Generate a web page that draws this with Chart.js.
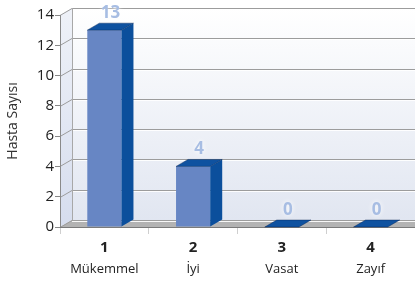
<!DOCTYPE html>
<html>
<head>
<meta charset="utf-8">
<script src="https://cdn.jsdelivr.net/npm/chart.js@4"></script>
<style>
  html, body { margin: 0; padding: 0; background: #fff; }
  #c { display: block; }
</style>
</head>
<body>
<canvas id="c" width="415" height="281"></canvas>
<script>
// veriler
const NUMS = ['1', '2', '3', '4'];
const NAMES = ['Mükemmel', 'İyi', 'Vasat', 'Zayıf'];
const HASTA = [13, 4, 0, 0];
const Y_MIN = 0, Y_MAX = 14, Y_STEP = 2;

// 3B derinlik ve renkler
const DX = 12, DY = -7;
const FRONT = '#6786c4', SIDE = '#0b4f9c', TOP = '#0f52a0';

Chart.defaults.font.family = '"Open Sans", sans-serif';

const box3d = {
  id: 'box3d',
  beforeDraw(chart) {
    const { ctx, chartArea: a, scales: { y } } = chart;
    const W = chart.width;
    const bx = a.left + DX, top = a.top + DY, bot = a.bottom + DY;
    ctx.save();
    // arka duvar
    let g = ctx.createLinearGradient(0, top, 0, bot);
    g.addColorStop(0, '#ffffff'); g.addColorStop(1, '#e1e6f1');
    ctx.fillStyle = g;
    ctx.fillRect(bx, top, W - bx, bot - top);
    // sol duvar
    g = ctx.createLinearGradient(0, a.top, 0, a.bottom);
    g.addColorStop(0, '#eef1f8'); g.addColorStop(1, '#d6ddee');
    ctx.fillStyle = g;
    ctx.beginPath();
    ctx.moveTo(a.left, a.top); ctx.lineTo(bx, top); ctx.lineTo(bx, bot); ctx.lineTo(a.left, a.bottom);
    ctx.closePath(); ctx.fill();
    // zemin
    ctx.fillStyle = '#b3b3b3';
    ctx.beginPath();
    ctx.moveTo(a.left, a.bottom); ctx.lineTo(bx, bot); ctx.lineTo(W, bot); ctx.lineTo(W, a.bottom);
    ctx.closePath(); ctx.fill();
    // ızgara
    y.ticks.forEach(t => {
      const py = Math.round(y.getPixelForValue(t.value)) + 0.5;
      ctx.strokeStyle = '#9c9c9c'; ctx.lineWidth = 1;
      ctx.beginPath(); ctx.moveTo(a.left, py); ctx.lineTo(bx, py + DY); ctx.lineTo(W, py + DY); ctx.stroke();
      ctx.strokeStyle = 'rgba(255,255,255,0.9)';
      ctx.beginPath(); ctx.moveTo(bx, py + DY + 1); ctx.lineTo(W, py + DY + 1); ctx.stroke();
    });
    ctx.strokeStyle = '#a8a8a8';
    ctx.beginPath(); ctx.moveTo(bx + 0.5, top); ctx.lineTo(bx + 0.5, bot); ctx.stroke();
    ctx.restore();
  },
  afterDatasetsDraw(chart) {
    const { ctx } = chart;
    const meta = chart.getDatasetMeta(0);
    ctx.save();
    meta.data.forEach((bar, i) => {
      const { x, y, base, width } = bar.getProps(['x', 'y', 'base', 'width'], true);
      const x0 = x - width / 2, x1 = x + width / 2;
      ctx.fillStyle = SIDE;
      ctx.beginPath();
      ctx.moveTo(x1, y); ctx.lineTo(x1 + DX, y + DY); ctx.lineTo(x1 + DX, base + DY); ctx.lineTo(x1, base);
      ctx.closePath(); ctx.fill();
      ctx.fillStyle = TOP;
      ctx.beginPath();
      ctx.moveTo(x0, y); ctx.lineTo(x0 + DX, y + DY); ctx.lineTo(x1 + DX, y + DY); ctx.lineTo(x1, y);
      ctx.closePath(); ctx.fill();
      ctx.strokeStyle = 'rgba(0,30,80,0.5)'; ctx.lineWidth = 0.8;
      ctx.stroke();
      // değer etiketi
      ctx.font = 'bold 17px "Open Sans", sans-serif';
      ctx.textAlign = 'center'; ctx.textBaseline = 'middle';
      ctx.shadowColor = '#ffffff'; ctx.shadowBlur = 5;
      ctx.fillStyle = '#a7bde3';
      ctx.fillText(String(HASTA[i]), x + DX / 2, y + DY - 10);
      ctx.shadowBlur = 0;
    });
    ctx.restore();
  }
};

new Chart(document.getElementById('c'), {
  type: 'bar',
  data: {
    labels: NUMS,
    datasets: [{
      data: HASTA,
      backgroundColor: FRONT,
      borderWidth: 0,
      categoryPercentage: 1,
      barPercentage: 0.385
    }]
  },
  options: {
    animation: false, responsive: false, maintainAspectRatio: false,
    layout: { padding: { top: 15, left: 0, right: 0, bottom: 0 } },
    plugins: { legend: { display: false }, tooltip: { enabled: false } },
    scales: {
      y: {
        min: Y_MIN, max: Y_MAX,
        ticks: { stepSize: Y_STEP, padding: 1, color: '#222', font: { size: 15 } },
        grid: { drawOnChartArea: false, tickLength: 5, color: '#888' },
        border: { display: true, color: '#8a8a8a' },
        title: { display: true, text: 'Hasta Sayısı', color: '#333', font: { size: 14 }, padding: { top: 5, bottom: 0 } },
        afterFit(s) { s.width = 60; }
      },
      x: {
        grid: { offset: true, drawOnChartArea: false, tickLength: 7, color: '#cfcfcf' },
        border: { display: true, color: '#7a7a7a' },
        ticks: { padding: 5, color: '#222', font: { size: 15, weight: 'bold' } },
        afterFit(s) { s.height = 25; }
      },
      x2: {
        type: 'category', labels: NAMES, position: 'bottom',
        grid: { display: false }, border: { display: false },
        ticks: { padding: 1, color: '#222', font: { size: 13 } },
        afterFit(s) { s.height = 29; }
      }
    }
  },
  plugins: [box3d]
});
</script>
</body>
</html>
